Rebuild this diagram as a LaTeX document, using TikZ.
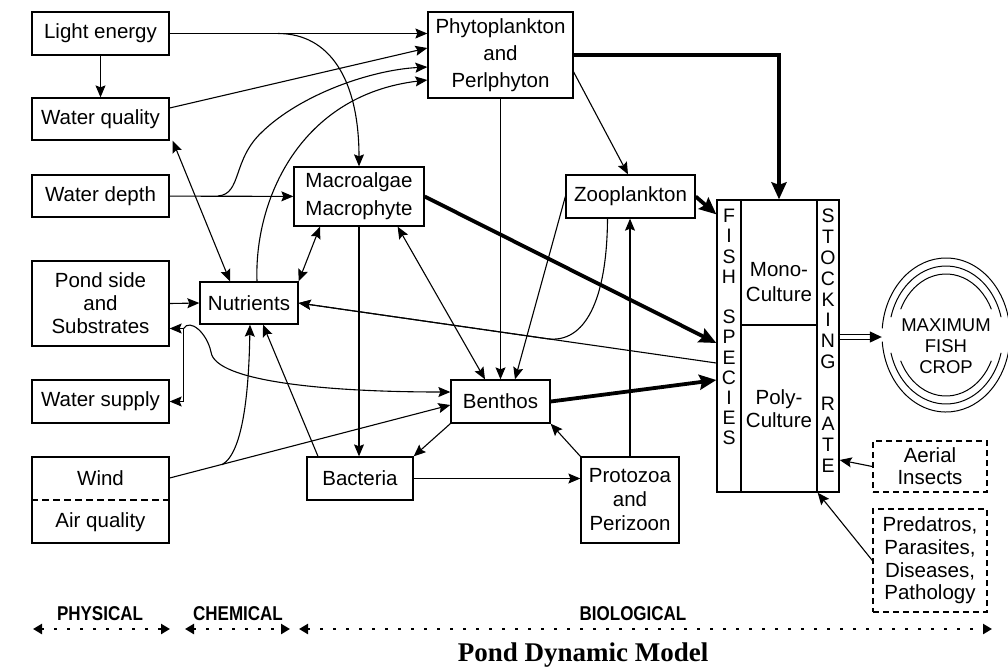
\documentclass[tikz,border=0pt]{standalone}
\usepackage{fontspec}
\setmainfont{Liberation Sans}
\newfontfamily\titlefont{Liberation Serif}
\newfontfamily\scalefont[FakeStretch=0.85]{Liberation Sans}
\usetikzlibrary{arrows.meta,shapes.geometric}

\begin{document}
\begin{tikzpicture}[x=1pt, y=-1pt,
    box/.style={rectangle, draw, line width=1.3pt, inner sep=0pt, align=center, font=\fontsize{20.5}{23}\selectfont},
    dbox/.style={box, dash pattern=on 6pt off 4pt},
    txt/.style={inner sep=0pt, align=center, font=\fontsize{20.5}{23}\selectfont},
    letters/.style={inner sep=0pt, align=center, anchor=north},
    arrow/.style={-{Stealth[length=12pt, width=10pt, inset=2pt]}, line width=1.1pt},
    darrow/.style={{Stealth[length=12pt, width=10pt, inset=2pt]}-{Stealth[length=12pt, width=10pt, inset=2pt]}, line width=1.1pt},
    bigarrow/.style={-{Stealth[length=17pt, width=15pt, inset=2.5pt]}, line width=3.8pt},
    scalearrow/.style={{Triangle[length=9pt, width=10pt]}-{Triangle[length=9pt, width=10pt]}, line width=2.5pt, dash pattern=on 2.5pt off 10.5pt},
    scalelabel/.style={inner sep=0pt, font=\scalefont\bfseries\fontsize{20}{20}\selectfont}
]
\useasboundingbox (0,0) rectangle (1008,670);

% Physical factors
\node[box, minimum width=137pt, minimum height=43pt] (light) at (100.5,33.5) {Light energy};
\node[box, minimum width=137pt, minimum height=42pt] (wq) at (100.5,119) {Water quality};
\node[box, minimum width=137pt, minimum height=42pt] (wd) at (100.5,196) {Water depth};
\node[box, minimum width=137pt, minimum height=85pt] (pond) at (100.5,303.5) {Pond side\\and\\Substrates};
\node[box, minimum width=137pt, minimum height=43pt] (ws) at (100.5,401.5) {Water supply};
\node[box, minimum width=137pt, minimum height=86pt] (weather) at (100.5,500) {};
\node[txt] (wind) at (100.5,478) {Wind};
\node[txt] (air) at (100.5,522) {Air quality};
\draw[line width=1.1pt, dash pattern=on 7pt off 4pt] (weather.west) -- (weather.east);

% Chemical and biological factors
\node[box, minimum width=98pt, minimum height=42pt] (nut) at (249,303) {Nutrients};
\node[box, minimum width=145pt, minimum height=86pt, font=\fontsize{20.5}{27}\selectfont] (phyto) at (500.5,55) {Phytoplankton\\and\\Perlphyton};
\node[box, minimum width=130pt, minimum height=59pt, font=\fontsize{20.5}{28}\selectfont] (macro) at (359,196.5) {Macroalgae\\Macrophyte};
\node[box, minimum width=129pt, minimum height=43pt] (zoo) at (630.5,196.5) {Zooplankton};
\node[box, minimum width=99pt, minimum height=43pt] (benthos) at (500.5,401.5) {Benthos};
\node[box, minimum width=106pt, minimum height=43pt] (bact) at (360,478.5) {Bacteria};
\node[box, minimum width=98pt, minimum height=86pt, font=\fontsize{20.5}{24}\selectfont] (proto) at (630,500) {Protozoa\\and\\Perizoon};

% Fish species block
\node[box, minimum width=24pt, minimum height=292pt] (fishsp) at (729,346) {};
\node[box, minimum width=76pt, minimum height=125pt] (mono) at (779,262.5) {};
\node[box, minimum width=76pt, minimum height=167pt] (poly) at (779,408.5) {Poly-\\Culture};
\node[box, minimum width=22pt, minimum height=292pt] (stock) at (828,346) {};
\node[txt, font=\fontsize{20.5}{25}\selectfont] (monotext) at (779,282.5) {Mono-\\Culture};
\node[letters, font=\fontsize{19.5}{20.2}\selectfont] (fishtext) at (729,209) {F\\I\\S\\H\\\mbox{}\\S\\P\\E\\C\\I\\E\\S};
\node[letters, font=\fontsize{19.5}{20.8}\selectfont] (stocktext) at (828,209) {S\\T\\O\\C\\K\\I\\N\\G\\\mbox{}\\R\\A\\T\\E};

% Outside factors
\node[dbox, minimum width=114pt, minimum height=51pt, font=\fontsize{20.5}{22}\selectfont] (aerial) at (930,466.5) {Aerial\\Insects};
\node[dbox, minimum width=114pt, minimum height=103pt, font=\fontsize{20.5}{22.7}\selectfont] (pred) at (930,560.5) {Predatros,\\Parasites,\\Diseases,\\Pathology};

% Result
\node[ellipse, inner sep=0pt, minimum width=128pt, minimum height=152pt, align=center, font=\fontsize{18.5}{21}\selectfont] (crop) at (946,346) {MAXIMUM\\FISH\\CROP};
\foreach \rx/\ry/\g in {64/77/5, 57/69/15, 50/61/25} {
    \draw[line width=1pt] ([yshift=11pt]crop.center) ++(\g:\rx pt and \ry pt) arc[start angle=\g, end angle=180-\g, x radius=\rx pt, y radius=\ry pt];
    \draw[line width=1pt] ([yshift=11pt]crop.center) ++(180+\g:\rx pt and \ry pt) arc[start angle=180+\g, end angle=360-\g, x radius=\rx pt, y radius=\ry pt];
}

% Branch points
\coordinate (lsplit) at (278,33.5);
\coordinate (dsplit) at (218,196);
\coordinate (wsplit) at (222,464.7);
\coordinate (zmerge) at (547,338.7);

% Arrows
\draw[arrow] (light) -- (wq);
\draw[arrow] (light.east) -- (light.east -| phyto.west);
\draw[arrow] (lsplit) .. controls (330,33.5) and (359,80) .. (macro.north);
\draw[arrow] ([yshift=11pt]wq.east) -- ([yshift=7pt]phyto.west);
\draw[arrow] (dsplit) .. controls (242,194) and (232,160) .. (262,132) .. controls (300,95) and (370,70) .. ([yshift=-12pt]phyto.west);
\draw[arrow] ([xshift=8pt]nut.north) .. controls (254,200) and (300,95) .. ([yshift=-25pt]phyto.west);
\draw[arrow] (wd) -- (macro);
\draw[darrow] ([xshift=3pt]wq.south east) -- ([xshift=-19pt]nut.north);
\draw[arrow] (pond.east) -- (nut.west);
\draw[darrow] ([xshift=-39pt]macro.south) -- (nut.north east);
\draw[arrow] ([yshift=-17pt]fishsp.west) -- (nut.east);
\draw[arrow] ([xshift=-23pt]zoo.south) .. controls (607,300) and (585,344) .. (zmerge) -- (nut.east);
\draw[darrow] ([xshift=-27pt]macro.south east) -- ([xshift=-15.5pt]benthos.north);
\draw[arrow] (phyto.south) -- (benthos.north);
\draw[arrow] (zoo.west) -- ([xshift=14.5pt]benthos.north);
\draw[arrow] (macro.south) -- (macro.south |- bact.north);
\draw[arrow] ([xshift=-42pt]bact.north) -- ([xshift=14pt]nut.south);
\draw[arrow] (wind.east -| weather.east) -- ([yshift=-3.5pt]benthos.west);
\draw[arrow] (wsplit) .. controls (245,452) and (249,380) .. ([xshift=1pt]nut.south);
\draw[darrow] ([yshift=-25pt]pond.east) -- ++(14,0) coordinate (pcorner) |- (ws.east);
\draw[arrow] (pcorner) .. controls (190,318) and (207,333) .. (211,352) .. controls (215,382) and (330,392) .. ([yshift=9.5pt]benthos.west);
\draw[arrow] (bact.east) -- (bact.east -| proto.west);
\draw[arrow] (benthos.south west) -- (bact.north east);
\draw[arrow] (proto.north west) -- (benthos.south east);
\draw[arrow] (proto.north) -- (proto.north |- zoo.south);
\draw[arrow] ([yshift=-17pt]phyto.east) -- ([xshift=-2.5pt]zoo.north);
\draw[arrow] (aerial.west) -- ([yshift=-114pt]stock.east);
\draw[arrow] (pred.west) -- (poly.south east);

% Main flows into fish species
\draw[bigarrow] (phyto.east) -| (mono.north);
\draw[bigarrow] (zoo.east) -- ([yshift=-15pt]fishsp.north west);
\draw[bigarrow] (macro.east) -- ([yshift=3pt]fishsp.west);
\draw[bigarrow] (benthos.east) -- ([yshift=-34pt]fishsp.west);

% Stocking rate to crop
\path ([yshift=9pt]stock.east) coordinate (sout) (sout -| crop.west) coordinate (cin);
\draw[double, double distance=3.5pt, line width=1.1pt, shorten >=10pt] (sout) -- (cin);
\draw[-{Triangle[length=12pt, width=11pt]}, line width=1.1pt] ([xshift=-11pt]cin) -- (cin);

% Scale
\coordinate (phys1) at (33,629);
\coordinate (phys2) at (170,629);
\coordinate (chem1) at (185,629);
\coordinate (chem2) at (290,629);
\coordinate (bio1) at (299,629);
\coordinate (bio2) at (992,629);
\draw[scalearrow] (phys1) -- (phys2);
\draw[scalearrow] (chem1) -- (chem2);
\draw[scalearrow] (bio1) -- (bio2);
\node[scalelabel] (physlab) at (100,614) {PHYSICAL};
\node[scalelabel] (chemlab) at (238,614) {CHEMICAL};
\node[scalelabel] (biolab) at (633,614) {BIOLOGICAL};

% Title
\node[inner sep=0pt, font=\titlefont\bfseries\fontsize{27}{27}\selectfont] (title) at (583,655) {Pond Dynamic Model};

\end{tikzpicture}
\end{document}
